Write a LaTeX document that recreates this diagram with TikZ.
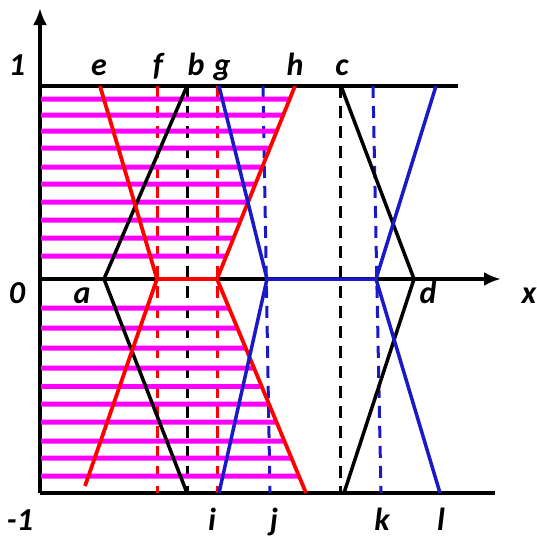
\documentclass[tikz,border=0pt]{standalone}
\usepackage{fontspec}
\setmainfont{Carlito}
\usetikzlibrary{arrows.meta,calc}
\definecolor{myred}{RGB}{255,0,0}
\definecolor{myblue}{RGB}{25,25,200}
\definecolor{mymag}{RGB}{255,0,255}
\begin{document}
\begin{tikzpicture}[x=1pt,y=-1pt,
  axis/.style={line width=4.5pt,black},
  blk/.style={line width=3.5pt,black},
  rd/.style={line width=3.8pt,myred},
  bl/.style={line width=3.5pt,myblue},
  dsh/.style={line width=3pt,dash pattern=on 12pt off 8pt},
  hatch/.style={line width=5pt,mymag},
  lbl/.style={font=\fontsize{32}{32}\selectfont\bfseries\itshape,anchor=base,inner sep=0pt},
  tip/.style={-{Latex[length=17pt,width=14pt]}}
]
\useasboundingbox (0,0) rectangle (537,539);
% axes frame
\coordinate (O) at (40,493);
\coordinate (Ytop) at (40,8);
\coordinate (X0) at (40,279);
\coordinate (Xend) at (501,279);
\coordinate (T0) at (40,86);
\coordinate (Tend) at (458,86);
\coordinate (Bend) at (495,493);
% black trapezoids
\coordinate (a) at (104,279);
\coordinate (b) at (187,86);
\coordinate (bb) at (187,493);
\coordinate (c) at (341,86);
\coordinate (d) at (414,279);
\coordinate (cb) at (344,493);
% red
\coordinate (e) at (100,86);
\coordinate (f0) at (157,279);
\coordinate (g0) at (217,279);
\coordinate (h) at (295,86);
\coordinate (rl) at (85,486);
\coordinate (rr) at (306,493);
% blue
\coordinate (gt) at (219,86);
\coordinate (j0) at (267,279);
\coordinate (k0) at (376,279);
\coordinate (lt) at (436,86);
\coordinate (ib) at (219,493);
\coordinate (lb) at (440,493);
% dashed ends
\coordinate (bdT) at (187,86);  \coordinate (bdB) at (187,493);
\coordinate (cdT) at (340,86);  \coordinate (cdB) at (340,493);
\coordinate (fT) at (157,86);   \coordinate (fB) at (157,493);
\coordinate (gT) at (217,86);   \coordinate (gB) at (217,493);
\coordinate (jT) at (263,86);   \coordinate (jB) at (270,493);
\coordinate (kT) at (373,86);   \coordinate (kB) at (381,493);

% axes
\draw[axis,tip] (O) -- (Ytop);
\draw[axis,tip] (X0) -- (Xend);
\draw[axis] (T0) -- (Tend);
\draw[axis] (O) -- (Bend);

% dashed verticals
\draw[dsh,black] (bdT) -- (bdB);
\draw[dsh,black] (cdT) -- (cdB);
\draw[dsh,myred] (fT) -- (fB);
\draw[dsh,myred] (gT) -- (gB);
\draw[dsh,myblue] (jT) -- (jB);
\draw[dsh,myblue] (kT) -- (kB);

% magenta hatching
\foreach \yy in {99,115,131,148,167,184,202,220,238,256}
  \draw[hatch] (41,\yy) -- ($(g0)!{(279-\yy)/193}!(h)$);
\foreach \yy in {308,328,348,368,386,404,422,441,458,476}
  \draw[hatch] (41,\yy) -- ($(g0)!{(\yy-279)/214}!(rr)$);

% black solid
\draw[blk] (b) -- (a) -- (bb);
\draw[blk] (c) -- (d) -- (cb);
% red solid
\draw[rd] (e) -- (f0) -- (g0) -- (h);
\draw[rd] (rl) -- (f0);
\draw[rd] (g0) -- (rr);
% blue solid
\draw[bl] (gt) -- (j0) -- (k0) -- (lt);
\draw[bl] (ib) -- (j0);
\draw[bl] (k0) -- (lb);

% labels
\node[lbl] (L1) at (17,75) {1};
\node[lbl] (L0) at (17,303) {0};
\node[lbl] (Lm1) at (20,530) {-1};
\node[lbl] (Le) at (99,75) {e};
\node[lbl] (Lf) at (158,75) {f};
\node[lbl] (Lb) at (196,75) {b};
\node[lbl] (Lg) at (222,75) {g};
\node[lbl] (Lh) at (295,75) {h};
\node[lbl] (Lc) at (342,75) {c};
\node[lbl] (La) at (82,303) {a};
\node[lbl] (Ld) at (428,303) {d};
\node[lbl] (Lx) at (529,303) {x};
\node[lbl] (Li) at (212,530) {i};
\node[lbl] (Lj) at (274,530) {j};
\node[lbl] (Lk) at (382,530) {k};
\node[lbl] (Ll) at (441,530) {l};
\end{tikzpicture}
\end{document}
